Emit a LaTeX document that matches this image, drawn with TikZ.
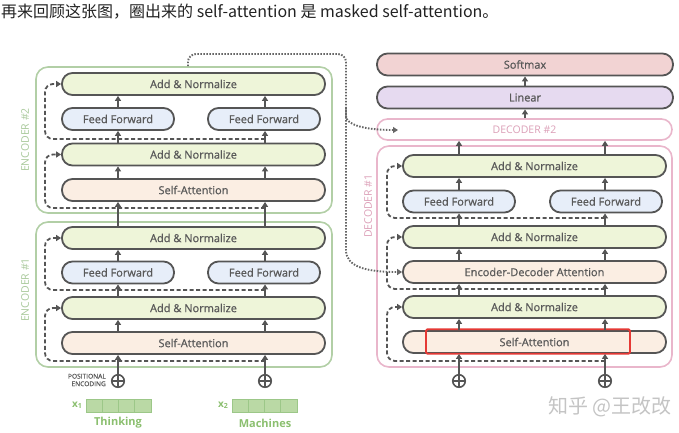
\documentclass[tikz,border=0pt]{standalone}
\usepackage{fontspec}
\setmainfont{Open Sans}
\newfontfamily\boxfont{Open Sans}[FakeBold=0.8]
\newfontfamily\cjk{Noto Sans CJK SC}
\usetikzlibrary{arrows.meta}
\definecolor{bord}{HTML}{555555}
\definecolor{txt}{HTML}{595959}
\definecolor{anfill}{HTML}{EEF5D9}
\definecolor{fffill}{HTML}{E7EEF9}
\definecolor{safill}{HTML}{FBEEE3}
\definecolor{smfill}{HTML}{F2D3D3}
\definecolor{linfill}{HTML}{E6DAF0}
\definecolor{encg}{HTML}{B2CFA6}
\definecolor{enct}{HTML}{A8C89A}
\definecolor{pinkb}{HTML}{E9B6CB}
\definecolor{pinkt}{HTML}{DCA0B8}
\definecolor{redc}{HTML}{E53935}
\definecolor{dotc}{HTML}{666666}
\definecolor{grn}{HTML}{8BBF6F}
\definecolor{cellf}{HTML}{BAD9A5}
\definecolor{celld}{HTML}{9CC788}
\definecolor{wm}{HTML}{C4C4C4}
\definecolor{ttl}{HTML}{222222}
\begin{document}
\begin{tikzpicture}[x=1pt,y=-1pt,
  blk/.style={draw=bord, line width=1.8pt, rounded corners=10.5pt, inner sep=0pt,
    minimum height=22pt, font=\boxfont\fontsize{11}{13}\selectfont, text=txt},
  an/.style={blk, fill=anfill, minimum width=263pt},
  ff/.style={blk, fill=fffill, minimum width=112pt},
  sa/.style={blk, fill=safill, minimum width=263pt},
  encbox/.style={draw=encg, line width=1.6pt, rounded corners=12pt, fill=white, inner sep=0pt, minimum width=296pt},
  decbox/.style={draw=pinkb, line width=1.6pt, rounded corners=12pt, fill=white, inner sep=0pt, minimum width=295pt},
  enclbl/.style={text=enct, font=\fontsize{10.5}{12}\selectfont, rotate=90, inner sep=0pt},
  declbl/.style={text=pinkt, font=\fontsize{10.5}{12}\selectfont, rotate=90, inner sep=0pt},
  arr/.style={draw=bord, line width=1.8pt, -{Triangle[length=5pt,width=6pt]}},
  res/.style={draw=bord, line width=1.8pt, dash pattern=on 4pt off 2.5pt, rounded corners=8pt, -{Triangle[length=5pt,width=6pt]}},
  dots/.style={draw=dotc, line width=1.9pt, dash pattern=on 1.5pt off 1.5pt, -{Triangle[length=5pt,width=6pt]}},
  plus/.style={circle, draw=bord, line width=1.6pt, minimum size=12.5pt, inner sep=0pt},
  cell/.style={fill=cellf, draw=celld, line width=0.8pt},
  wordlbl/.style={text=grn, font=\bfseries\fontsize{11}{13}\selectfont, inner sep=0pt}
]
\useasboundingbox (0,0) rectangle (679,432);

% title
\node[anchor=west, inner sep=0pt, text=ttl, font=\cjk\fontsize{16}{18}\selectfont] (title) at (1,12) {再来回顾这张图，圈出来的 self-attention 是 masked self-attention。};

% reference coordinates
\coordinate (cL) at (118,0);
\coordinate (cR) at (265,0);
\coordinate (dL) at (459,0);
\coordinate (dR) at (605,0);
\coordinate (dC) at (525,0);
\coordinate (ot) at (188,0);

% encoder frames
\node[encbox, minimum height=146pt] (enc2) at (184,140) {};
\node[encbox, minimum height=145pt] (enc1) at (184,294.5) {};
\node[enclbl] (enc2l) at (25,140) {ENCODER \#2};
\node[enclbl] (enc1l) at (25,290) {ENCODER \#1};

% encoder blocks
\node[an] (e2an2) at (193.5,84) {Add \& Normalize};
\node[ff] (e2ffL) at (118,119) {Feed Forward};
\node[ff] (e2ffR) at (264,119) {Feed Forward};
\node[an] (e2an1) at (193.5,154.5) {Add \& Normalize};
\node[sa] (e2sa) at (193.5,190) {Self-Attention};
\node[an] (e1an2) at (193.5,238) {Add \& Normalize};
\node[ff] (e1ffL) at (118,272.5) {Feed Forward};
\node[ff] (e1ffR) at (264,272.5) {Feed Forward};
\node[an] (e1an1) at (193.5,308) {Add \& Normalize};
\node[sa] (e1sa) at (193.5,343) {Self-Attention};

% decoder frames
\node[decbox, minimum height=221pt] (dec1) at (524.5,256.5) {};
\node[decbox, minimum height=21pt, rounded corners=10.5pt, text=pinkt, font=\fontsize{10.5}{12}\selectfont] (dec2) at (524.5,129.5) {DECODER \#2};
\node[declbl] (dec1l) at (368,206) {DECODER \#1};

% output blocks
\node[blk, fill=smfill, minimum width=296pt] (soft) at (525,64.5) {Softmax};
\node[blk, fill=linfill, minimum width=296pt] (lin) at (525,97.5) {Linear};

% decoder blocks
\node[an] (d1an3) at (534.5,166) {Add \& Normalize};
\node[ff] (dffL) at (459,201.5) {Feed Forward};
\node[ff] (dffR) at (606,201.5) {Feed Forward};
\node[an] (d1an2) at (534.5,237) {Add \& Normalize};
\node[sa] (ded) at (534.5,272) {Encoder-Decoder Attention};
\node[an] (d1an1) at (534.5,307) {Add \& Normalize};
\node[sa] (dsa) at (534.5,342) {Self-Attention};
\node[draw=redc, line width=1.9pt, rounded corners=1.5pt, minimum width=204pt, minimum height=24.5pt, inner sep=0pt] (mask) at (528,341.5) {};

% positional encoding plus signs
\node[plus] (pL) at (118,381) {};
\node[plus] (pR) at (265,381) {};
\node[plus] (qL) at (459,381) {};
\node[plus] (qR) at (605,381) {};
\foreach \p in {pL,pR,qL,qR} {
  \draw[bord, line width=1.6pt] (\p.north) -- (\p.south);
  \draw[bord, line width=1.6pt] (\p.west) -- (\p.east);
}
\node[anchor=east, align=right, text=txt, inner sep=0pt, font=\boxfont\fontsize{6.6}{7.6}\selectfont] (posenc) at (106,380) {POSITIONAL\\ENCODING};

% encoder arrows
\foreach \a/\b in {e1sa/e1an1, e1an2/e2sa, e2sa/e2an1} {
  \foreach \c in {cL,cR} \draw[arr] (\a.north -| \c) -- (\b.south -| \c);
}
\draw[arr] (e1an1.north -| cL) -- (e1ffL.south -| cL);
\draw[arr] (e1an1.north -| cR) -- (e1ffR.south -| cR);
\draw[arr] (e1ffL.north -| cL) -- (e1an2.south -| cL);
\draw[arr] (e1ffR.north -| cR) -- (e1an2.south -| cR);
\draw[arr] (e2an1.north -| cL) -- (e2ffL.south -| cL);
\draw[arr] (e2an1.north -| cR) -- (e2ffR.south -| cR);
\draw[arr] (e2ffL.north -| cL) -- (e2an2.south -| cL);
\draw[arr] (e2ffR.north -| cR) -- (e2an2.south -| cR);
\draw[arr] (pL.north) -- (e1sa.south -| pL);
\draw[arr] (pR.north) -- (e1sa.south -| pR);

% decoder arrows
\foreach \a/\b in {dsa/d1an1, d1an1/ded, ded/d1an2, d1an3/dec2} {
  \foreach \c in {dL,dR} \draw[arr] (\a.north -| \c) -- (\b.south -| \c);
}
\draw[arr] (d1an2.north -| dL) -- (dffL.south -| dL);
\draw[arr] (d1an2.north -| dR) -- (dffR.south -| dR);
\draw[arr] (dffL.north -| dL) -- (d1an3.south -| dL);
\draw[arr] (dffR.north -| dR) -- (d1an3.south -| dR);
\draw[arr] (qL.north) -- (dsa.south -| qL);
\draw[arr] (qR.north) -- (dsa.south -| qR);
\draw[arr] (dec2.north -| dC) -- (lin.south -| dC);
\draw[arr] (lin.north -| dC) -- (soft.south -| dC);

% residual connections
\coordinate (r1) at (265,361);
\coordinate (r2) at (265,290);
\coordinate (r3) at (265,208);
\coordinate (r4) at (265,139);
\draw[res] (r1) -- (45,361) -- (45,308) -- (e1an1.west);
\draw[res] (r2) -- (45,290) -- (45,238) -- (e1an2.west);
\draw[res] (r3) -- (45,208) -- (45,154.5) -- (e2an1.west);
\draw[res] (r4) -- (45,139) -- (45,84) -- (e2an2.west);
\coordinate (s1) at (605,361);
\coordinate (s2) at (605,289);
\coordinate (s3) at (605,218);
\draw[res] (s1) -- (387,361) -- (387,307) -- (d1an1.west);
\draw[res] (s2) -- (387,289) -- (387,237) -- (d1an2.west);
\draw[res] (s3) -- (387,218) -- (387,166) -- (d1an3.west);

% encoder output to decoders
\coordinate (d2in) at (398,130);
\coordinate (split) at (346,108);
\draw[dots, rounded corners=8pt] (enc2.north -| ot) -- (188,54) -- (346,54) -- (split) [sharp corners] .. controls (346,124) and (362,130) .. (d2in);
\draw[dots] (split) -- (346,250) .. controls (346,266) and (364,272) .. (ded.west);

% input vectors
\foreach \i in {0,...,3} {
  \draw[cell] (86+\i*16.25,399) rectangle ++(16.25,13);
  \draw[cell] (232+\i*16.25,399) rectangle ++(16.25,13);
}
\node[wordlbl, font=\bfseries\fontsize{10}{12}\selectfont] (x1) at (77,405.5) {x\raisebox{-1.5pt}{\fontsize{7}{8}\selectfont 1}};
\node[wordlbl, font=\bfseries\fontsize{10}{12}\selectfont] (x2) at (223,405.5) {x\raisebox{-1.5pt}{\fontsize{7}{8}\selectfont 2}};
\node[wordlbl] (w1) at (118,423) {Thinking};
\node[wordlbl] (w2) at (265,423) {Machines};

% watermark
\node[text=wm, inner sep=0pt, font=\cjk\fontsize{20}{22}\selectfont] (wmark) at (610,407) {知乎 @王改改};
\end{tikzpicture}
\end{document}
